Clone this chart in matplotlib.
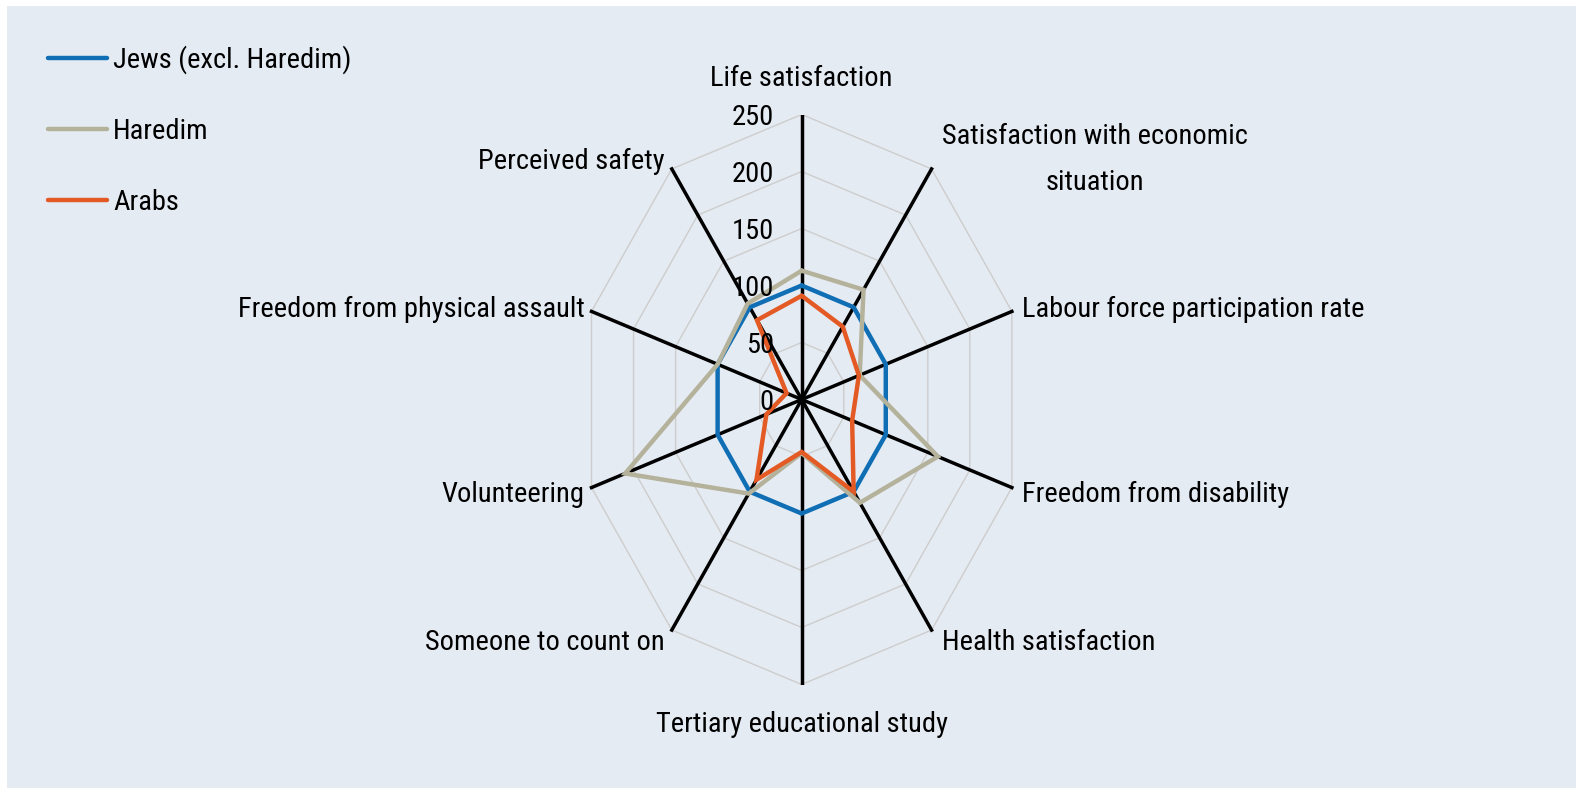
import numpy as np
import matplotlib.pyplot as plt
from matplotlib.patches import Rectangle

plt.rcParams['font.family'] = ['Roboto Condensed', 'Liberation Sans Narrow', 'Roboto', 'DejaVu Sans']
plt.rcParams['font.size'] = 20.5

# Axes of the radar, clockwise from the top
categories = ["Life satisfaction", "Satisfaction with economic\nsituation",
              "Labour force participation rate", "Freedom from disability",
              "Health satisfaction", "Tertiary educational study",
              "Someone to count on", "Volunteering",
              "Freedom from physical assault", "Perceived safety"]

# Values (Jews excl. Haredim = 100)
jews = [100, 100, 100, 100, 100, 100, 100, 100, 100, 100]
haredim = [113, 119, 69, 162, 112, 47, 102, 210, 100, 104]
arabs = [91, 79, 68, 60, 100, 46, 87, 42, 18, 86]

ticks = [0, 50, 100, 150, 200, 250]
series_names = ["Jews (excl. Haredim)", "Haredim", "Arabs"]
colors = ["#106EB4", "#B4B29B", "#E45A24"]
bg = "#E5EBF3"

n = len(categories)
ang = 2 * np.pi * np.arange(n) / n
rmax = ticks[-1]

fig = plt.figure(figsize=(15.76, 7.88), dpi=100)
fig.patch.set_facecolor("white")
fig.patches.append(Rectangle((7 / 1576, 0), 1, 1 - 6 / 788, transform=fig.transFigure,
                             facecolor=bg, edgecolor="none", zorder=-10))

# stretched radar: 221 px wide radius, 285 px high radius, centre (801.7, 399.5)
cx, cy, rx, ry = 801.7, 399.5, 221, 285
ax = fig.add_axes([(cx - rx) / 1576, (788 - cy - ry) / 788, 2 * rx / 1576, 2 * ry / 788])
ax.set_xlim(-rmax, rmax)
ax.set_ylim(-rmax, rmax)
ax.axis("off")


def closed(vals):
    v = np.append(vals, vals[0])
    a = np.append(ang, ang[0])
    return v * np.sin(a), v * np.cos(a)


# grid rings
for t in ticks[1:]:
    gx, gy = closed(np.full(n, t))
    ax.plot(gx, gy, color="#CDCDCD", lw=1, zorder=1)

# spokes
for a in ang:
    ax.plot([0, rmax * np.sin(a)], [0, rmax * np.cos(a)], color="black", lw=2.5, zorder=2)

lines = []
for vals, c, lab in zip([jews, haredim, arabs], colors, series_names):
    sx, sy = closed(np.array(vals, dtype=float))
    ln, = ax.plot(sx, sy, color=c, lw=3.2, label=lab, zorder=3,
                  solid_joinstyle="miter", solid_capstyle="round")
    lines.append(ln)

# radial tick labels
for t in ticks:
    ax.annotate(str(t), xy=(0, t), xytext=(-28, -3), textcoords="offset pixels",
                ha="right", va="center", zorder=5, annotation_clip=False)

# category labels
for name, a in zip(categories, ang):
    x, y = rmax * np.sin(a), rmax * np.cos(a)
    s, c = np.sin(a), np.cos(a)
    if abs(s) < 1e-6:
        ha, dx, dy = "center", 0, 36 if c > 0 else -40
    else:
        ha = "left" if s > 0 else "right"
        dx = 10 if s > 0 else -7
        dy = 10 * c - 1 if c > 0 else 10 * c - 4
    ax.annotate(name, xy=(x, y), xytext=(dx, dy + (2 if "\n" in name else 0)),
                textcoords="offset pixels", ha=ha, va="center",
                multialignment="center", linespacing=1.9, annotation_clip=False)

fig.legend(handles=lines, loc="upper left", bbox_to_anchor=(0.0305, 0.942),
           frameon=False, borderpad=0, borderaxespad=0, handlelength=2.08,
           handletextpad=0.2, labelspacing=1.53)

fig.savefig("out.png", dpi=100, facecolor=fig.get_facecolor())
